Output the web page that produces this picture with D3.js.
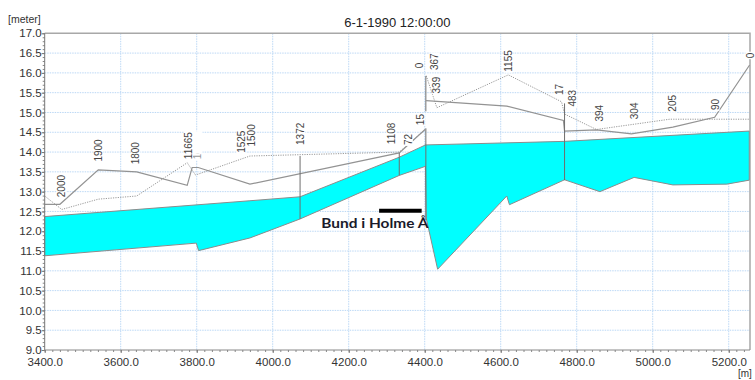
<!DOCTYPE html>
<html>
<head>
<meta charset="utf-8">
<script src="https://cdn.jsdelivr.net/npm/d3@7"></script>
<style>
  body { margin: 0; background: #fff; }
  svg { display: block; font-family: "Liberation Sans", Arial, sans-serif; }
</style>
</head>
<body>
<div id="profile"></div>
<script>
// values: chainage [m], level [meter]
const title = "6-1-1990 12:00:00";

const xTicks = [3400, 3600, 3800, 4000, 4200, 4400, 4600, 4800, 5000, 5200];
const yTicks = [9.0, 9.5, 10.0, 10.5, 11.0, 11.5, 12.0, 12.5, 13.0, 13.5, 14.0, 14.5, 15.0, 15.5, 16.0, 16.5, 17.0];

// water surface
const waterChainage = [3400, 3940, 4072, 4333, 4402, 4768, 5254];
const waterLevel    = [12.37, 12.77, 12.87, 13.87, 14.18, 14.27, 14.53];

// river bed
const bedChainage = [3400, 3799, 3805, 3940, 4072, 4333, 4402, 4404, 4434, 4616, 4623, 4768, 4861, 4951, 5053, 5195, 5254];
const bedLevel    = [11.38, 11.70, 11.51, 11.83, 12.31, 13.41, 13.64, 12.33, 11.04, 12.89, 12.67, 13.30, 13.00, 13.36, 13.17, 13.19, 13.29];

// solid grey line (null = gap)
const solidChainage = [3400, 3440, 3541, 3642, 3775, 3788, 3804, 3940, 4333, 4401, null, 4404, 4616, 4765, 4768, 4852, 4944, 5053, 5163, 5255];
const solidLevel    = [12.68, 12.68, 13.55, 13.50, 13.16, 13.61, 13.61, 13.19, 13.98, 14.57, null, 15.30, 15.16, 14.80, 14.53, 14.56, 14.46, 14.63, 14.88, 16.20];

// dotted grey line
const dottedChainage = [3400, 3445, 3541, 3642, 3775, 3797, 3940, 4333, 4401, null, 4404, 4432, 4620, 4760, 4768, 4852, 5045, 5255];
const dottedLevel    = [12.89, 12.55, 12.81, 12.89, 13.73, 13.42, 13.90, 14.00, 14.57, null, 15.93, 15.12, 15.95, 15.27, 14.96, 14.57, 14.83, 14.83];

// vertical structure lines
const markerChainage = [4072, 4333, 4403, 4403, 4768];
const markerTop      = [13.90, 13.98, 15.92, 14.60, 15.23];
const markerBottom   = [12.31, 13.41, 15.03, 12.28, 13.29];

// point labels (rotated)
const labelText     = ["2000", "1900", "1800", "11665", "1525", "1500", "1372", "1108", "72", "15", "0", "367", "339", "1155", "17", "483", "394", "304", "205", "90", "0"];
const labelChainage = [3445, 3541, 3640, 3778, 3917, 3943, 4074, 4313, 4357, 4389, 4386, 4427, 4432, 4620, 4756, 4789, 4861, 4953, 5052, 5164, 5256];
const labelLevel    = [12.86, 13.76, 13.69, 13.82, 13.98, 14.14, 14.18, 14.20, 14.18, 14.68, 16.12, 16.07, 15.48, 16.03, 15.44, 15.15, 14.77, 14.83, 15.02, 15.06, 16.37];

// label hidden behind the others near 3800
const hiddenText = "1640";
const hiddenChainage = 3802;
const hiddenLevel = 13.82;

// annotation
const noteText = "Bund i Holme Å";
const noteBar = [4280, 4392];
const noteBarLevel = 12.52;
const noteChainage = 4128;
const noteLevel = 12.07;

const width = 755, height = 380;
const mLeft = 44.7, mRight = 750, mTop = 33.3, mBottom = 350;

const svg = d3.select("#profile")
  .append("svg")
  .attr("width", width)
  .attr("height", height);

const x = d3.scaleLinear().domain([3400, 5256]).range([mLeft, mRight]);
const y = d3.scaleLinear().domain([9, 17]).range([mBottom, mTop]);

// grid
const grid = svg.append("g")
  .attr("stroke", "#bcd8f5")
  .attr("stroke-width", 1)
  .attr("stroke-dasharray", "1.5,1");
grid.selectAll("line.v")
  .data(xTicks.slice(1))
  .enter().append("line")
  .attr("x1", d => x(d)).attr("x2", d => x(d))
  .attr("y1", mTop).attr("y2", mBottom);
grid.selectAll("line.h")
  .data(yTicks.slice(1, -1))
  .enter().append("line")
  .attr("x1", mLeft).attr("x2", mRight)
  .attr("y1", d => y(d)).attr("y2", d => y(d));

// frame top / right
svg.append("path")
  .attr("d", `M${mLeft},${mTop}H${mRight}V${mBottom}`)
  .attr("fill", "none")
  .attr("stroke", "#a8a8a8")
  .attr("stroke-width", 1.5);

// water body polygon: surface left->right, bed right->left
const poly = waterChainage.map((c, i) => [c, waterLevel[i]])
  .concat(bedChainage.map((c, i) => [c, bedLevel[i]]).reverse());
svg.append("path")
  .datum(poly)
  .attr("d", d3.line().x(d => x(d[0])).y(d => y(d[1])).curve(d3.curveLinearClosed))
  .attr("fill", "#00ffff")
  .attr("stroke", "#8c8c8c")
  .attr("stroke-width", 1);

const line = d3.line()
  .defined(d => d[0] !== null)
  .x(d => x(d[0]))
  .y(d => y(d[1]));

svg.append("path")
  .datum(dottedChainage.map((c, i) => [c, dottedLevel[i]]))
  .attr("d", line)
  .attr("fill", "none")
  .attr("stroke", "#9a9a9a")
  .attr("stroke-width", 1)
  .attr("stroke-dasharray", "1.2,1.2");

svg.append("path")
  .datum(solidChainage.map((c, i) => [c, solidLevel[i]]))
  .attr("d", line)
  .attr("fill", "none")
  .attr("stroke", "#939393")
  .attr("stroke-width", 1.2);

svg.selectAll("line.marker")
  .data(markerChainage)
  .enter().append("line")
  .attr("x1", d => x(d)).attr("x2", d => x(d))
  .attr("y1", (d, i) => y(markerTop[i]))
  .attr("y2", (d, i) => y(markerBottom[i]))
  .attr("stroke", "#6e6e6e")
  .attr("stroke-width", 1);

// Y axis
const yAxis = svg.append("g")
  .attr("transform", `translate(${mLeft},0)`)
  .call(d3.axisLeft(y).tickValues(d3.range(9, 17.001, 0.1)).tickSize(2).tickFormat(""));
yAxis.select(".domain").remove();
yAxis.selectAll("line").attr("stroke", "#888");
const yMajor = svg.append("g")
  .attr("transform", `translate(${mLeft},0)`)
  .call(d3.axisLeft(y).tickValues(yTicks).tickSize(3).tickPadding(0).tickFormat(d3.format(".1f")));
yMajor.select(".domain").attr("stroke", "#777").attr("d", `M0,${mBottom}V${mTop}`);
yMajor.selectAll("line").attr("stroke", "#777");
yMajor.selectAll("text").attr("fill", "#333").style("font-size", "11.5px")
  .style("font-family", "'Liberation Sans', Arial, sans-serif");

// X axis
const xAxis = svg.append("g")
  .attr("transform", `translate(0,${mBottom})`)
  .call(d3.axisBottom(x).tickValues(d3.range(3400, 5256, 20)).tickSize(2).tickFormat(""));
xAxis.select(".domain").remove();
xAxis.selectAll("line").attr("stroke", "#888");
const xMajor = svg.append("g")
  .attr("transform", `translate(0,${mBottom})`)
  .call(d3.axisBottom(x).tickValues(xTicks).tickSize(3).tickPadding(5).tickFormat(d3.format(".1f")));
xMajor.select(".domain").attr("stroke", "#888").attr("d", `M${mLeft},0H${mRight}`);
xMajor.selectAll("line").attr("stroke", "#777");
xMajor.selectAll("text").attr("fill", "#333").style("font-size", "11.5px")
  .style("font-family", "'Liberation Sans', Arial, sans-serif");

// units and title
svg.append("text").attr("x", 8).attr("y", 23).text("[meter]")
  .attr("font-size", 10.5).attr("fill", "#333");
svg.append("text").attr("x", 738).attr("y", 377).text("[m]")
  .attr("font-size", 10).attr("fill", "#333");
svg.append("text").attr("x", (mLeft + mRight) / 2).attr("y", 27)
  .attr("text-anchor", "middle").text(title)
  .attr("font-size", 13).attr("fill", "#222");

// point labels with white box
function addLabel(t, c, l, colour) {
  const g = svg.append("g")
    .attr("transform", `translate(${x(c)},${y(l)}) rotate(-90)`);
  const rect = g.append("rect").attr("fill", "#fff");
  const txt = g.append("text")
    .attr("dominant-baseline", "central")
    .attr("font-size", 10)
    .attr("fill", colour || "#444")
    .text(t);
  const w = txt.node().getComputedTextLength();
  rect.attr("x", -1).attr("y", -4.5).attr("width", w + 2).attr("height", 9);
}
// hidden label, mostly covered
addLabel(hiddenText, hiddenChainage, hiddenLevel, "#999");
svg.append("rect")
  .attr("x", x(hiddenChainage) - 5).attr("width", 10)
  .attr("y", y(hiddenLevel) - 28).attr("height", 22)
  .attr("fill", "#fff");
labelText.forEach((t, i) => addLabel(t, labelChainage[i], labelLevel[i]));

// annotation
svg.append("line")
  .attr("x1", x(noteBar[0])).attr("x2", x(noteBar[1]))
  .attr("y1", y(noteBarLevel)).attr("y2", y(noteBarLevel))
  .attr("stroke", "#000").attr("stroke-width", 4);
svg.append("text")
  .attr("x", x(noteChainage)).attr("y", y(noteLevel))
  .attr("font-family", "Lato, 'Open Sans', sans-serif")
  .attr("font-weight", "bold")
  .attr("font-size", 13.5)
  .attr("fill", "#1a1a2a")
  .attr("textLength", 107)
  .attr("lengthAdjust", "spacingAndGlyphs")
  .text(noteText);
</script>
</body>
</html>
